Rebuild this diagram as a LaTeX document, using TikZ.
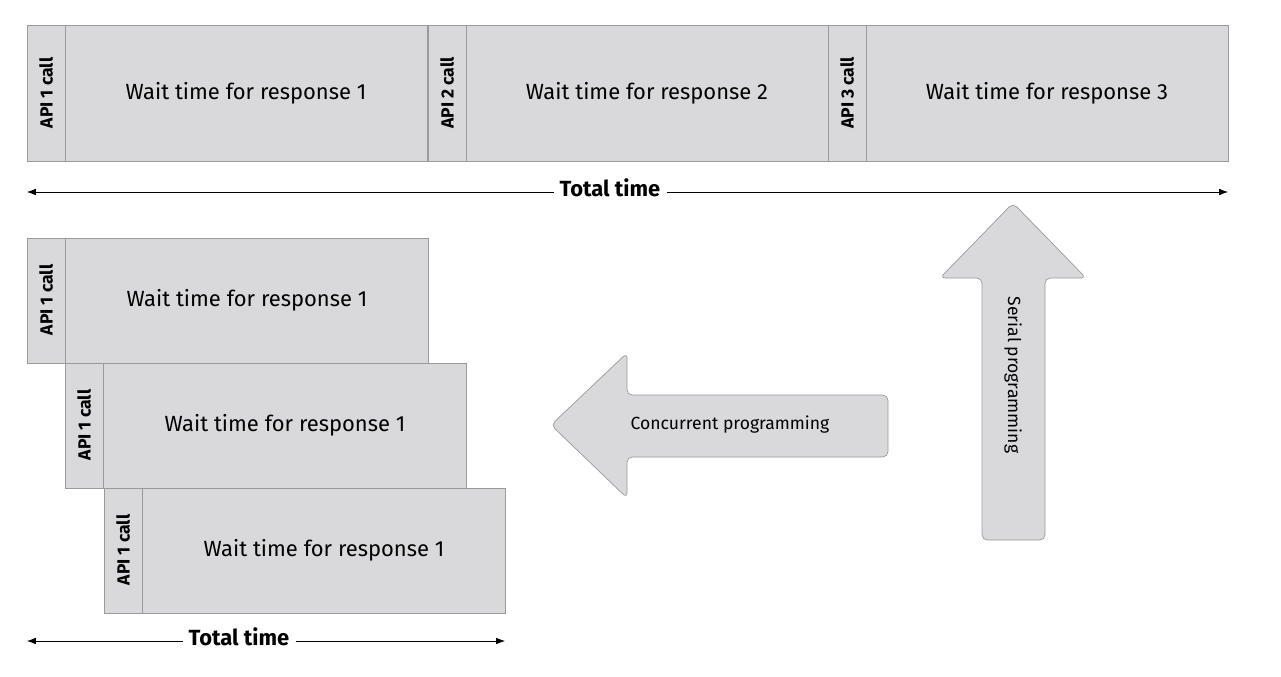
\documentclass[tikz,border=0pt]{standalone}
\usepackage{fontspec}
\setmainfont{Fira Sans}
\usetikzlibrary{positioning,arrows.meta}
\definecolor{boxgray}{HTML}{D9D9DB}
\definecolor{linegray}{HTML}{9A9A9A}

\begin{document}
\begin{tikzpicture}[x=0.02cm, y=-0.02cm,
    call/.style={draw=linegray, fill=boxgray, font=\fontsize{10}{12}\selectfont\bfseries},
    wait/.style={draw=linegray, fill=boxgray, font=\fontsize{12.5}{14}\selectfont},
    span/.style={{Latex[length=5pt]}-{Latex[length=5pt]}, thin},
    bigarrow/.style={draw=linegray, fill=boxgray, rounded corners=3pt}]
    \useasboundingbox (0,0) rectangle (1281,676);

    % Serial row
    \foreach \i/\x in {1/27, 2/428, 3/828} {
        \draw[call] (\x,25) rectangle (\x+38,161);
        \node[rotate=90, font=\fontsize{10}{12}\selectfont\bfseries] (scall\i) at (\x+19,93) {API \i\ call};
        \draw[wait] (\x+38,25) rectangle (\x+400,161);
        \node[font=\fontsize{12.5}{14}\selectfont] (swait\i) at (\x+219,93) {Wait time for response \i};
    }

    % Serial total time
    \node[font=\fontsize{12.5}{14}\selectfont\bfseries, fill=white] (stotal) at (610,188) {Total time};
    \coordinate (sl) at (27,192);
    \coordinate (sr) at (1228,192);
    \draw[-{Latex[length=5pt]}] (stotal.west |- sl) -- (sl);
    \draw[-{Latex[length=5pt]}] (stotal.east |- sr) -- (sr);

    % Concurrent rows
    \foreach \i/\x/\y in {1/27/238, 2/65/363, 3/104/488} {
        \draw[call] (\x,\y) rectangle (\x+38,\y+125);
        \node[rotate=90, font=\fontsize{10}{12}\selectfont\bfseries] (ccall\i) at (\x+19,\y+62) {API 1 call};
        \draw[wait] (\x+38,\y) rectangle (\x+401,\y+125);
        \node[font=\fontsize{12.5}{14}\selectfont] (cwait\i) at (\x+220,\y+62) {Wait time for response 1};
    }

    % Concurrent total time
    \node[font=\fontsize{12.5}{14}\selectfont\bfseries, fill=white] (ctotal) at (239,637) {Total time};
    \coordinate (cl) at (27,641);
    \coordinate (cr) at (505,641);
    \draw[-{Latex[length=5pt]}] (ctotal.west |- cl) -- (cl);
    \draw[-{Latex[length=5pt]}] (ctotal.east |- cr) -- (cr);

    % Big arrows
    \draw[bigarrow] (551,425) -- (627,353) -- (627,395) -- (888,395) -- (888,457) -- (627,457) -- (627,498) -- cycle;
    \node[font=\fontsize{10}{12}\selectfont] (concur) at (730,425) {Concurrent programming};
    \draw[bigarrow] (1013,203) -- (1086,278) -- (1045,278) -- (1045,540) -- (982,540) -- (982,278) -- (940,278) -- cycle;
    \node[rotate=-90, font=\fontsize{10}{12}\selectfont] (serial) at (1013,375) {Serial programming};
\end{tikzpicture}
\end{document}
